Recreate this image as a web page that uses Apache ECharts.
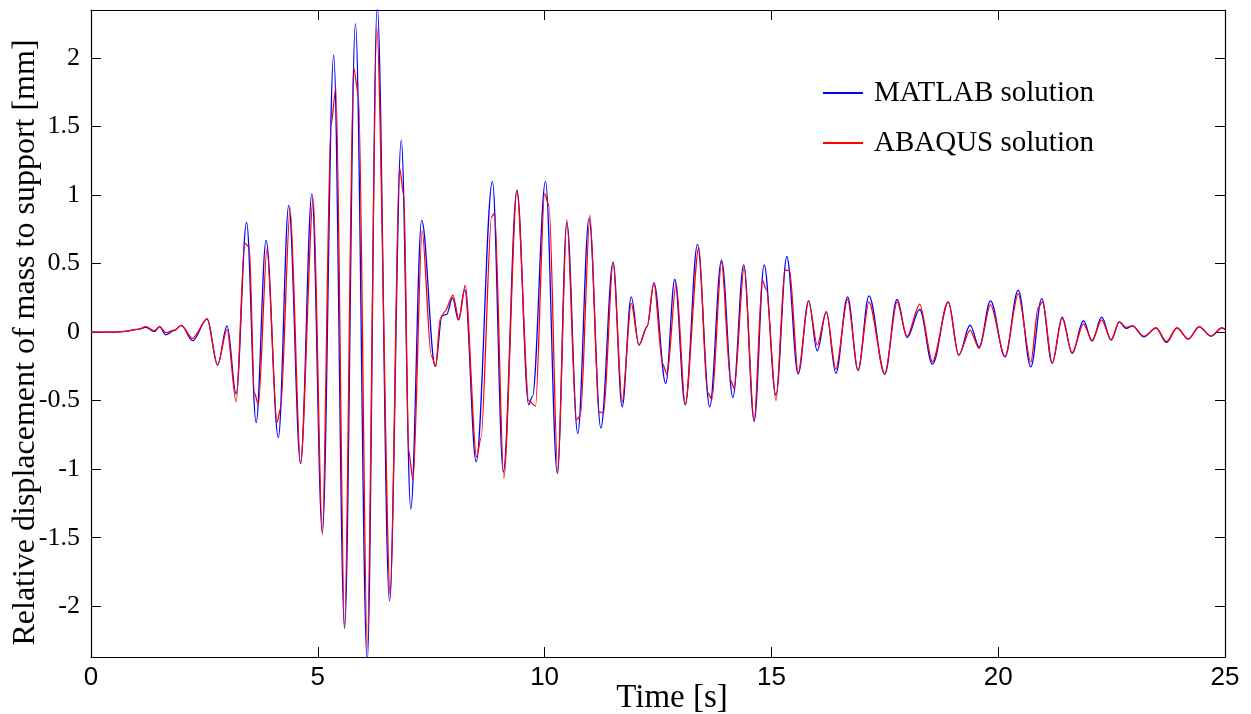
<!DOCTYPE html>
<html>
<head>
<meta charset="utf-8">
<script src="https://cdn.jsdelivr.net/npm/echarts@6/dist/echarts.min.js"></script>
<style>
html,body{margin:0;padding:0;background:#fff;}
#chart{width:1251px;height:714px;}
</style>
</head>
<body>
<div id="chart"></div>
<script>
// ---- Data (time in s, displacement in mm) ----
const seriesNames = ["MATLAB solution", "ABAQUS solution"];

const matlabT = [0, 0.5, 0.74, 1.03, 1.21, 1.40, 1.51, 1.65, 1.84, 1.99, 2.24, 2.56, 2.79, 3.00, 3.20,
  3.43, 3.64, 3.86, 4.13, 4.36, 4.62, 4.87, 5.10, 5.35, 5.59, 5.83, 6.09, 6.31, 6.58, 6.84, 7.05,
  7.29, 7.59, 7.74, 7.84, 7.97, 8.10, 8.24, 8.49, 8.85, 9.09, 9.39, 9.65, 9.73, 10.02, 10.28, 10.49,
  10.73, 10.98, 11.24, 11.51, 11.71, 11.91, 12.08, 12.26, 12.41, 12.67, 12.87, 13.10, 13.37, 13.64,
  13.90, 14.15, 14.39, 14.62, 14.84, 15.10, 15.34, 15.59, 15.82, 16.01, 16.21, 16.42, 16.68, 16.91,
  17.15, 17.50, 17.77, 17.99, 18.27, 18.55, 18.90, 19.13, 19.38, 19.58, 19.83, 20.15, 20.44, 20.72,
  20.96, 21.19, 21.41, 21.63, 21.88, 22.07, 22.28, 22.49, 22.67, 22.82, 22.96, 23.21, 23.48, 23.71,
  23.94, 24.19, 24.43, 24.69, 24.93, 25.0];
const matlabV = [0, 0, 0.005, 0.02, 0.035, 0.005, 0.04, -0.02, 0.013, 0.05, -0.062, 0.097, -0.24, 0.045, -0.45,
  0.80, -0.66, 0.67, -0.77, 0.925, -0.96, 1.01, -1.46, 2.02, -2.16, 2.25, -2.40, 2.38, -1.96, 1.40, -1.29,
  0.815, -0.25, 0.12, 0.13, 0.25, 0.09, 0.31, -0.945, 1.10, -1.02, 1.035, -0.53, -0.47, 1.10, -1.03, 0.80,
  -0.74, 0.83, -0.70, 0.51, -0.545, 0.257, -0.095, 0.04, 0.36, -0.374, 0.384, -0.53, 0.64, -0.545,
  0.525, -0.476, 0.49, -0.65, 0.49, -0.46, 0.55, -0.305, 0.228, -0.136, 0.148, -0.30, 0.257, -0.28,
  0.265, -0.306, 0.238, -0.039, 0.165, -0.233, 0.22, -0.168, 0.051, -0.107, 0.228, -0.18, 0.306, -0.253,
  0.245, -0.228, 0.11, -0.155, 0.083, -0.066, 0.11, -0.058, 0.075, 0.027, 0.046, -0.034, 0.031, -0.075,
  0.031, -0.051, 0.039, -0.029, 0.031, 0.02];

const abaqusT = [0, 0.5, 0.74, 1.03, 1.21, 1.40, 1.51, 1.65, 1.84, 1.99, 2.24, 2.56, 2.79, 3.00, 3.20,
  3.39, 3.49, 3.60, 3.69, 3.88, 4.10, 4.18, 4.39, 4.62, 4.90, 5.10, 5.29, 5.40, 5.59, 5.79, 5.90,
  6.09, 6.30, 6.60, 6.80, 6.90, 7.00, 7.10, 7.30, 7.50, 7.60, 7.70, 7.80, 7.98, 8.11, 8.25, 8.50,
  8.60, 8.83, 8.90, 9.10, 9.39, 9.65, 9.80, 10.00, 10.10, 10.29, 10.49, 10.70, 10.79, 11.00, 11.20,
  11.30, 11.51, 11.71, 11.91, 12.08, 12.26, 12.41, 12.60, 12.70, 12.90, 13.10, 13.40, 13.59, 13.69,
  13.90, 14.10, 14.18, 14.40, 14.62, 14.80, 14.89, 15.10, 15.30, 15.40, 15.59, 15.82, 16.01, 16.21,
  16.42, 16.68, 16.91, 17.15, 17.50, 17.77, 17.99, 18.27, 18.55, 18.90, 19.13, 19.38, 19.58, 19.83,
  20.15, 20.44, 20.72, 20.88, 20.98, 21.19, 21.41, 21.63, 21.88, 22.07, 22.28, 22.49, 22.67, 22.82,
  22.96, 23.21, 23.48, 23.71, 23.94, 24.19, 24.43, 24.69, 24.93, 25.0];
const abaqusV = [0, 0, 0.005, 0.02, 0.04, 0.01, 0.04, -0.003, 0.015, 0.05, -0.045, 0.097, -0.24, 0.02, -0.51,
  0.65, 0.62, -0.44, -0.53, 0.61, -0.66, -0.555, 0.905, -0.96, 0.98, -1.48, 1.51, 1.78, -2.16, 1.93, 1.72,
  -2.31, 2.22, -1.94, 1.20, 0.99, -0.86, -1.08, 0.74, -0.17, -0.25, 0.10, 0.15, 0.27, 0.09, 0.34, -0.91,
  -0.77, 0.84, 0.87, -1.065, 1.035, -0.50, -0.54, 1.01, 0.92, -1.03, 0.82, -0.64, -0.61, 0.853, -0.58,
  -0.59, 0.51, -0.51, 0.21, -0.095, 0.04, 0.36, -0.23, -0.31, 0.36, -0.53, 0.62, -0.44, -0.49,
  0.51, -0.35, -0.41, 0.48, -0.65, 0.38, 0.31, -0.50, 0.45, 0.45, -0.30, 0.228, -0.095, 0.15,
  -0.27, 0.24, -0.28, 0.22, -0.306, 0.22, -0.03, 0.205, -0.216, 0.22, -0.168, 0.015, -0.12, 0.20,
  -0.18, 0.28, -0.22, 0.18, 0.22, -0.228, 0.10, -0.15, 0.06, -0.06, 0.09, -0.055, 0.075, 0.035,
  0.046, -0.03, 0.03, -0.07, 0.03, -0.05, 0.04, -0.03, 0.03, 0.02];

const xTicks = [0, 5, 10, 15, 20, 25];
const yTicks = [-2, -1.5, -1, -0.5, 0, 0.5, 1, 1.5, 2];
const yTickLabels = ["-2", "-1.5", "-1", "-0.5", "0", "0.5", "1", "1.5", "2"];

// ---- Build chart ----
const pairs = (t, v) => t.map((x, i) => [x, v[i]]);
const serif = "'Liberation Serif', 'Times New Roman', serif";
const sans = "'Liberation Sans', Arial, sans-serif";
const axisLineStyle = { color: '#000', width: 1.2 };
const tickStyle = { color: '#000', width: 1 };

const chart = echarts.init(document.getElementById('chart'), null, { renderer: 'canvas' });
chart.setOption({
  animation: false,
  backgroundColor: '#fff',
  grid: { left: 91, right: 26, top: 10, bottom: 57, containLabel: false, outerBoundsMode: 'none' },
  legend: {
    orient: 'vertical',
    left: 823,
    top: 78,
    padding: 0,
    itemWidth: 40,
    itemHeight: 2,
    itemGap: 20,
    icon: 'rect',
    data: seriesNames,
    textStyle: { fontFamily: serif, fontSize: 29, color: '#000', lineHeight: 30, padding: [0, 0, 0, 6] }
  },
  xAxis: [
    {
      type: 'value', min: 0, max: 25, interval: 5, position: 'bottom',
      name: 'Time [s]', nameLocation: 'middle', nameGap: 25, nameMoveOverlap: false,
      nameTextStyle: { fontFamily: serif, fontSize: 33, color: '#000', padding: [0, 0, 0, 28] },
      axisLine: { show: true, onZero: false, lineStyle: axisLineStyle },
      axisTick: { show: true, inside: true, length: 10, lineStyle: tickStyle, customValues: xTicks },
      axisLabel: { fontFamily: sans, fontSize: 26, color: '#000', margin: 8, customValues: xTicks },
      splitLine: { show: false }
    },
    {
      type: 'value', min: 0, max: 25, interval: 5, position: 'top',
      axisLine: { show: true, onZero: false, lineStyle: axisLineStyle },
      axisTick: { show: true, inside: true, length: 10, lineStyle: tickStyle },
      axisLabel: { show: false },
      splitLine: { show: false }
    }
  ],
  yAxis: [
    {
      type: 'value', min: -2.37, max: 2.35, position: 'left',
      name: 'Relative displacement of mass to support [mm]', nameLocation: 'middle', nameGap: 49,
      nameMoveOverlap: false,
      nameTextStyle: { fontFamily: serif, fontSize: 32, color: '#000', padding: [0, 18, 0, 0] },
      axisLine: { show: true, onZero: false, lineStyle: axisLineStyle },
      axisTick: { show: true, inside: true, length: 10, lineStyle: tickStyle, customValues: yTicks },
      axisLabel: {
        fontFamily: serif, fontSize: 26, color: '#000', margin: 11, customValues: yTicks,
        formatter: v => { const i = yTicks.findIndex(t => Math.abs(t - v) < 1e-9); return i >= 0 ? yTickLabels[i] : ''; }
      },
      splitLine: { show: false }
    },
    {
      type: 'value', min: -2.37, max: 2.35, position: 'right',
      axisLine: { show: true, onZero: false, lineStyle: axisLineStyle },
      axisTick: { show: true, inside: true, length: 10, lineStyle: tickStyle, customValues: yTicks },
      axisLabel: { show: false, customValues: yTicks },
      splitLine: { show: false }
    }
  ],
  series: [
    {
      name: seriesNames[0], type: 'line', xAxisIndex: 0, yAxisIndex: 0,
      data: pairs(matlabT, matlabV),
      showSymbol: false, symbol: 'none', smooth: 0.36, smoothMonotone: 'x', clip: true,
      lineStyle: { color: '#0000ff', width: 1.3 }, itemStyle: { color: '#0000ff' }
    },
    {
      name: seriesNames[1], type: 'line', xAxisIndex: 0, yAxisIndex: 0,
      data: pairs(abaqusT, abaqusV),
      showSymbol: false, symbol: 'none', smooth: 0.28, smoothMonotone: 'x', clip: true,
      lineStyle: { color: '#ff0000', width: 1.3 }, itemStyle: { color: '#ff0000' }
    }
  ]
});
</script>
</body>
</html>
